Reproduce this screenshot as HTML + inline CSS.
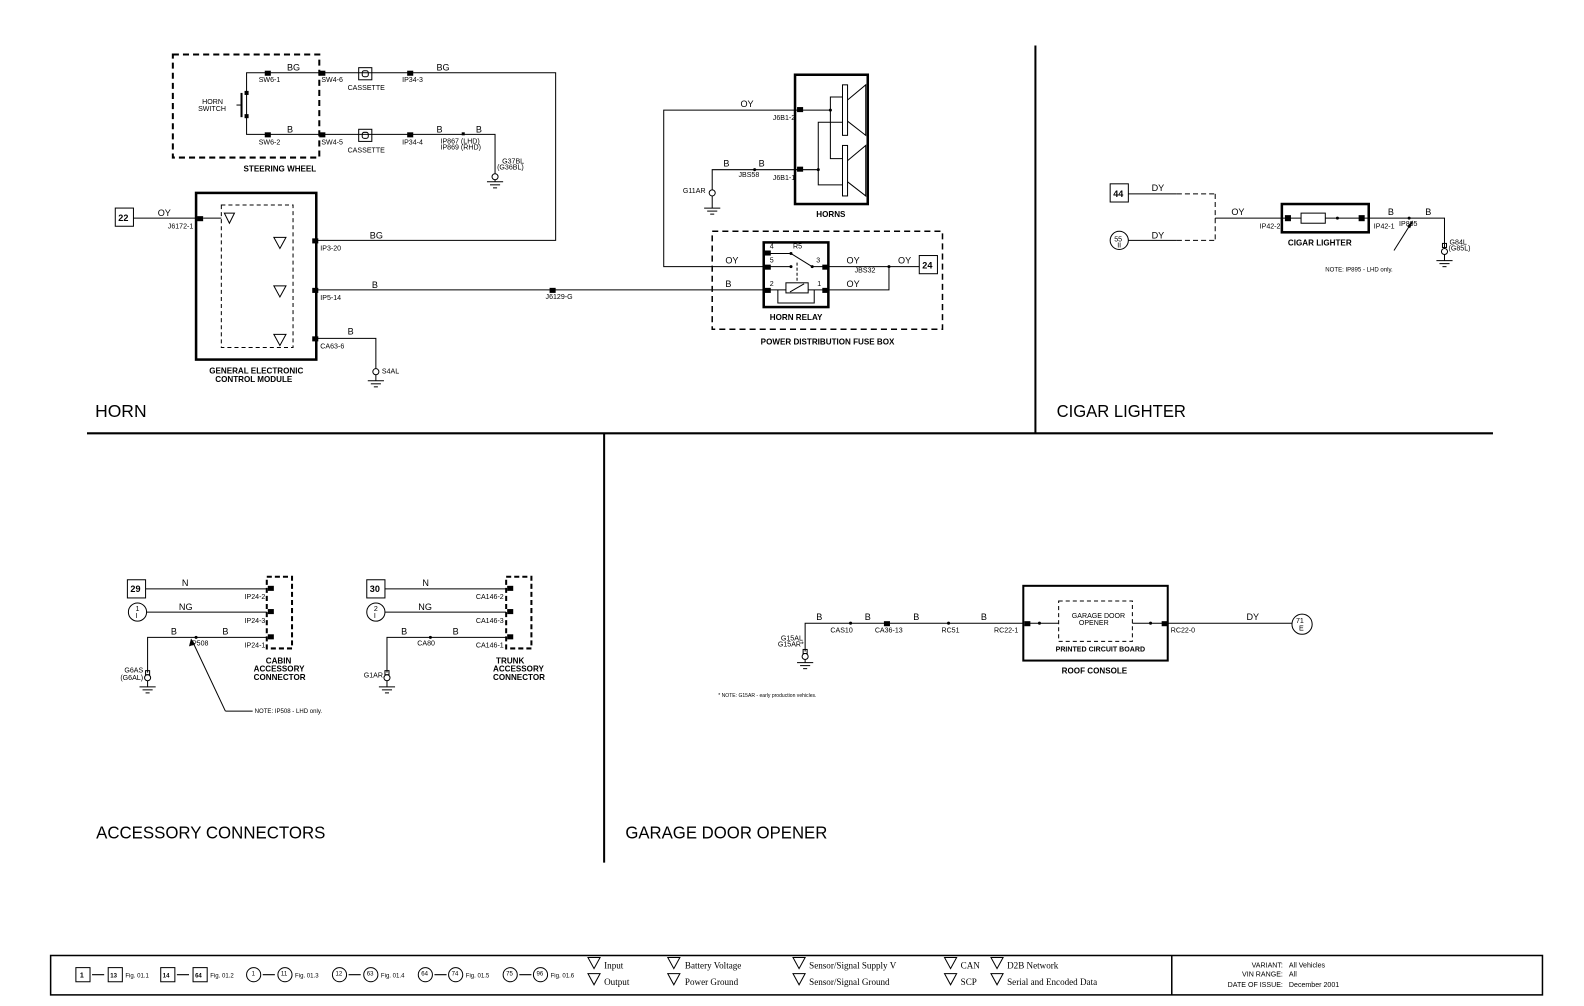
<!DOCTYPE html>
<html><head><meta charset="utf-8"><style>
html,body{margin:0;padding:0;background:#fff}
svg{display:block}
text{font-family:"Liberation Sans",sans-serif;fill:#000}
.s{font-size:7px}
.w{font-size:9px}
.b{font-size:8px;font-weight:bold}
.t{font-size:17px}
</style></head><body>
<svg width="1584" height="1006" viewBox="0 0 1568 996" xmlns="http://www.w3.org/2000/svg" fill="none" stroke="#000" stroke-width="1">
<!-- frame lines -->
<line x1="86" y1="429" x2="1478" y2="429" stroke-width="2"/>
<line x1="1025" y1="45" x2="1025" y2="429" stroke-width="2"/>
<line x1="598" y1="429" x2="598" y2="854" stroke-width="2"/>
<g stroke="none">
<text class="t" x="94" y="413" textLength="51" lengthAdjust="spacingAndGlyphs">HORN</text>
<text class="t" x="1046" y="413" textLength="128" lengthAdjust="spacingAndGlyphs">CIGAR LIGHTER</text>
<text class="t" x="95" y="830" textLength="227" lengthAdjust="spacingAndGlyphs">ACCESSORY CONNECTORS</text>
<text class="t" x="619" y="830" textLength="200" lengthAdjust="spacingAndGlyphs">GARAGE DOOR OPENER</text>
</g>

<!-- HORN: steering wheel -->
<rect x="171" y="54" width="145" height="102" stroke-width="2" stroke-dasharray="6,4"/>
<polyline points="316,72 244,72 244,133 316,133"/>
<line x1="239" y1="92" x2="239" y2="116" stroke-width="2"/>
<line x1="239" y1="104" x2="234" y2="104"/>
<g fill="#000" stroke="none">
<rect x="242" y="90" width="4" height="4"/><rect x="242" y="113" width="4" height="4"/>
<rect x="262" y="70" width="6" height="5"/><rect x="262" y="131" width="6" height="5"/>
<rect x="316" y="70" width="6" height="5"/><rect x="316" y="131" width="6" height="5"/>
<rect x="403" y="70" width="6" height="5"/><rect x="403" y="131" width="6" height="5"/>
<rect x="457" y="131" width="3" height="3"/>
<text class="s" x="200" y="103">HORN</text><text class="s" x="196" y="110">SWITCH</text>
<text class="s" x="256" y="81">SW6-1</text><text class="s" x="256" y="143">SW6-2</text>
<text class="s" x="318" y="81">SW4-6</text><text class="s" x="318" y="143">SW4-5</text>
<text class="s" x="344" y="89">CASSETTE</text><text class="s" x="344" y="151">CASSETTE</text>
<text class="s" x="398" y="81">IP34-3</text><text class="s" x="398" y="143">IP34-4</text>
<text class="s" x="436" y="142">IP867 (LHD)</text><text class="s" x="436" y="148">IP869 (RHD)</text>
<text class="s" x="497" y="162">G37BL</text><text class="s" x="492" y="168">(G36BL)</text>
<text class="w" x="284" y="70">BG</text><text class="w" x="284" y="131">B</text>
<text class="w" x="432" y="70">BG</text><text class="w" x="432" y="131">B</text><text class="w" x="471" y="131">B</text>
<text class="b" x="241" y="170">STEERING WHEEL</text>
</g>
<rect x="355" y="67" width="13" height="12"/><rect x="355" y="128" width="13" height="12"/>
<rect x="358.5" y="70" width="6" height="6" rx="2"/><rect x="358.5" y="131" width="6" height="6" rx="2"/>
<polyline points="316,72 550,72 550,238 313,238"/>
<polyline points="316,133 490,133 490,172"/>
<circle cx="490" cy="175" r="3"/>
<line x1="490" y1="178" x2="490" y2="180"/>
<line x1="482" y1="180" x2="498" y2="180"/><line x1="485" y1="183" x2="495" y2="183"/><line x1="488" y1="186" x2="492" y2="186"/>

<!-- GECM -->
<rect x="194" y="191" width="119" height="165" stroke-width="2.5"/>
<rect x="219" y="203" width="71" height="141" stroke-dasharray="4,3"/>
<rect x="114" y="206" width="18" height="18"/>
<g stroke="none" fill="#000"><text x="117" y="219" style="font-size:9px;font-weight:bold">22</text>
<rect x="195" y="214" width="6" height="5"/><rect x="309" y="236" width="6" height="5"/><rect x="309" y="285" width="6" height="5"/><rect x="309" y="333" width="6" height="5"/>
<text class="w" x="156" y="214">OY</text><text class="s" x="166" y="226">J6172-1</text>
<text class="s" x="317" y="248">IP3-20</text><text class="s" x="317" y="297">IP5-14</text><text class="s" x="317" y="345">CA63-6</text>
<text class="w" x="366" y="236">BG</text><text class="w" x="368" y="285">B</text><text class="w" x="344" y="331">B</text>
<text class="s" x="378" y="370">S4AL</text>
<text class="s" x="540" y="296">J6129-G</text>
<text class="b" x="207" y="370">GENERAL ELECTRONIC</text><text class="b" x="213" y="378">CONTROL MODULE</text>
<rect x="544" y="285" width="6" height="5"/>
</g>
<line x1="132" y1="216" x2="194" y2="216"/><line x1="201" y1="216" x2="219" y2="216"/>
<path d="M222,211 h10 l-5,10 z M271,235 h12 l-6,11 z M271,283 h12 l-6,11 z M271,331 h12 l-6,11 z"/>
<line x1="313" y1="287" x2="756" y2="287"/>
<polyline points="313,335 372,335 372,365"/>
<circle cx="372" cy="368" r="3"/>
<line x1="372" y1="371" x2="372" y2="377"/>
<line x1="364" y1="377" x2="380" y2="377"/><line x1="367" y1="380" x2="377" y2="380"/><line x1="370" y1="383" x2="374" y2="383"/>

<!-- Horns -->
<rect x="787" y="74" width="72" height="128" stroke-width="2.5"/>
<rect x="834" y="84" width="5" height="50"/><rect x="834" y="144" width="5" height="50"/>
<path d="M839,99 L857,84 V134 L839,120 M839,159 L857,144 V194 L839,180"/>
<polyline points="791,109 822,109 822,157 834,157"/>
<polyline points="834,121 810,121 810,168 791,168"/>
<polyline points="810,168 810,183 834,183"/>
<polyline points="822,109 822,96 834,96"/>
<polyline points="790,109 657,109 657,264 756,264"/>
<polyline points="790,168 705,168 705,188"/>
<circle cx="705" cy="191" r="3"/>
<line x1="705" y1="194" x2="705" y2="206"/>
<line x1="697" y1="206" x2="713" y2="206"/><line x1="700" y1="209" x2="710" y2="209"/><line x1="703" y1="212" x2="707" y2="212"/>
<g stroke="none" fill="#000">
<rect x="789" y="106" width="6" height="5"/><rect x="789" y="165" width="6" height="5"/>
<circle cx="822" cy="109" r="1.5"/><circle cx="810" cy="168" r="1.5"/><circle cx="747" cy="168" r="1.5"/>
<text class="w" x="733" y="106">OY</text><text class="w" x="716" y="165">B</text><text class="w" x="751" y="165">B</text>
<text class="s" x="765" y="119">J6B1-2</text><text class="s" x="765" y="178">J6B1-1</text>
<text class="s" x="731" y="175">JBS58</text><text class="s" x="676" y="191">G11AR</text>
<text class="b" x="808" y="215">HORNS</text>
</g>
<!-- Relay -->
<rect x="705" y="229" width="228" height="97" stroke-width="1.5" stroke-dasharray="6,4"/>
<rect x="756" y="240" width="64" height="64" stroke-width="2.5"/>
<polyline points="760,251 783,251"/><line x1="783" y1="251" x2="804" y2="264"/>
<line x1="760" y1="264" x2="783" y2="264"/><line x1="804" y1="264" x2="820" y2="264"/>
<line x1="789" y1="260" x2="789" y2="280" stroke-dasharray="3,2"/>
<rect x="778" y="280" width="22" height="10"/><line x1="782" y1="289" x2="796" y2="281"/>
<polyline points="760,287 778,287"/><polyline points="800,287 816,287"/>
<polyline points="770,287 770,300 806,300 806,287"/>
<line x1="820" y1="264" x2="910" y2="264"/>
<polyline points="820,287 880,287 880,264"/>
<rect x="910" y="253" width="18" height="18"/>
<g stroke="none" fill="#000">
<rect x="757" y="248" width="6" height="5"/><rect x="757" y="262" width="6" height="5"/><rect x="757" y="285" width="6" height="5"/>
<rect x="814" y="262" width="6" height="5"/><rect x="814" y="285" width="6" height="5"/>
<circle cx="783" cy="251" r="1.5"/><circle cx="783" cy="264" r="1.5"/><circle cx="804" cy="264" r="1.5"/><circle cx="880" cy="264" r="1.5"/>
<text class="s" x="762" y="246">4</text><text class="s" x="762" y="260">5</text><text class="s" x="762" y="283">2</text><text class="s" x="785" y="246">R5</text>
<text class="s" x="808" y="260">3</text><text class="s" x="809" y="283">1</text>
<text class="w" x="718" y="261">OY</text><text class="w" x="718" y="284">B</text>
<text class="w" x="838" y="261">OY</text><text class="w" x="838" y="284">OY</text><text class="w" x="889" y="261">OY</text>
<text class="s" x="846" y="270">JBS32</text>
<text x="913" y="266" style="font-size:9px;font-weight:bold">24</text>
<text class="b" x="762" y="317">HORN RELAY</text>
<text class="b" x="753" y="341">POWER DISTRIBUTION FUSE BOX</text>
</g>

<!-- CIGAR LIGHTER -->
<rect x="1099" y="182" width="18" height="18"/>
<circle cx="1108" cy="238" r="9"/>
<line x1="1117" y1="192" x2="1165" y2="192"/><line x1="1165" y1="192" x2="1203" y2="192" stroke-dasharray="5,3"/>
<line x1="1117" y1="238" x2="1165" y2="238"/><line x1="1165" y1="238" x2="1203" y2="238" stroke-dasharray="5,3"/>
<line x1="1203" y1="192" x2="1203" y2="238" stroke-dasharray="5,3"/>
<line x1="1203" y1="216" x2="1270" y2="216"/>
<rect x="1269" y="202" width="86" height="28" stroke-width="2.5"/>
<line x1="1270" y1="216" x2="1288" y2="216"/><rect x="1288" y="211" width="24" height="10"/><line x1="1312" y1="216" x2="1355" y2="216"/>
<polyline points="1355,216 1430,216 1430,246"/>
<line x1="1380" y1="248" x2="1397" y2="221"/>
<rect x="1428" y="241" width="4" height="4"/><circle cx="1430" cy="249" r="3"/>
<line x1="1430" y1="252" x2="1430" y2="258"/>
<line x1="1422" y1="258" x2="1438" y2="258"/><line x1="1425" y1="261" x2="1435" y2="261"/><line x1="1428" y1="264" x2="1432" y2="264"/>
<g stroke="none" fill="#000">
<rect x="1272" y="213" width="6" height="6"/><rect x="1345" y="213" width="6" height="6"/><circle cx="1324" cy="216" r="1.5"/><circle cx="1395" cy="216" r="1.5"/>
<path d="M1399,218 L1393,224 L1396,226 Z"/>
<text x="1102" y="195" style="font-size:9px;font-weight:bold">44</text>
<text class="s" x="1103" y="239">55</text><text class="s" x="1106" y="245">II</text>
<text class="w" x="1140" y="189">DY</text><text class="w" x="1140" y="236">DY</text><text class="w" x="1219" y="213">OY</text>
<text class="w" x="1374" y="213">B</text><text class="w" x="1411" y="213">B</text>
<text class="s" x="1247" y="226">IP42-2</text><text class="s" x="1360" y="226">IP42-1</text><text class="s" x="1385" y="224">IP895</text>
<text class="s" x="1435" y="242">G84L</text><text class="s" x="1434" y="248">(G85L)</text>
<text class="b" x="1275" y="243">CIGAR LIGHTER</text>
<text class="s" x="1312" y="269" style="font-size:6px">NOTE: IP895 - LHD only.</text>
</g>

<!-- ACCESSORY: cabin -->
<rect x="126" y="574" width="18" height="18"/><circle cx="136" cy="606" r="9"/>
<line x1="144" y1="583" x2="264" y2="583"/><line x1="145" y1="606" x2="264" y2="606"/>
<polyline points="264,631 146,631 146,666"/>
<rect x="264" y="571" width="25" height="71" stroke-width="2" stroke-dasharray="5,3"/>
<line x1="190" y1="634" x2="223" y2="704"/><line x1="223" y1="704" x2="250" y2="704"/>
<rect x="144" y="664" width="4" height="4"/><circle cx="146" cy="671" r="3"/>
<line x1="146" y1="674" x2="146" y2="680"/><line x1="138" y1="680" x2="154" y2="680"/><line x1="141" y1="683" x2="151" y2="683"/><line x1="144" y1="686" x2="148" y2="686"/>
<!-- trunk -->
<rect x="363" y="574" width="18" height="18"/><circle cx="372" cy="606" r="9"/>
<line x1="381" y1="583" x2="501" y2="583"/><line x1="381" y1="606" x2="501" y2="606"/>
<polyline points="501,631 383,631 383,666"/>
<rect x="501" y="571" width="25" height="71" stroke-width="2" stroke-dasharray="5,3"/>
<rect x="381" y="664" width="4" height="4"/><circle cx="383" cy="671" r="3"/>
<line x1="383" y1="674" x2="383" y2="680"/><line x1="375" y1="680" x2="391" y2="680"/><line x1="378" y1="683" x2="388" y2="683"/><line x1="381" y1="686" x2="385" y2="686"/>
<g stroke="none" fill="#000">
<rect x="265" y="580" width="6" height="5"/><rect x="265" y="603" width="6" height="5"/><rect x="265" y="628" width="6" height="5"/>
<rect x="502" y="580" width="6" height="5"/><rect x="502" y="603" width="6" height="5"/><rect x="502" y="628" width="6" height="5"/>
<circle cx="194" cy="631" r="1.5"/><circle cx="426" cy="631" r="1.5"/>
<path d="M189,632 L187,640 L193,638 Z"/>
<text x="129" y="586" style="font-size:9px;font-weight:bold">29</text><text class="s" x="134" y="605">1</text><text class="s" x="134" y="612">I</text>
<text x="366" y="586" style="font-size:9px;font-weight:bold">30</text><text class="s" x="370" y="605">2</text><text class="s" x="370" y="612">I</text>
<text class="w" x="180" y="580">N</text><text class="w" x="177" y="604">NG</text><text class="w" x="169" y="628">B</text><text class="w" x="220" y="628">B</text>
<text class="w" x="418" y="580">N</text><text class="w" x="414" y="604">NG</text><text class="w" x="397" y="628">B</text><text class="w" x="448" y="628">B</text>
<text class="s" x="242" y="593">IP24-2</text><text class="s" x="242" y="617">IP24-3</text><text class="s" x="242" y="641">IP24-1</text><text class="s" x="188" y="639">IP508</text>
<text class="s" x="471" y="593">CA146-2</text><text class="s" x="471" y="617">CA146-3</text><text class="s" x="471" y="641">CA146-1</text><text class="s" x="413" y="639">CA80</text>
<text class="s" x="123" y="666">G6AS</text><text class="s" x="119" y="673">(G6AL)</text><text class="s" x="360" y="671">G1AR</text>
<text class="b" x="263" y="657">CABIN</text><text class="b" x="251" y="665">ACCESSORY</text><text class="b" x="251" y="673">CONNECTOR</text>
<text class="b" x="491" y="657">TRUNK</text><text class="b" x="488" y="665">ACCESSORY</text><text class="b" x="488" y="673">CONNECTOR</text>
<text class="s" x="252" y="706" style="font-size:6px">NOTE: IP508 - LHD only.</text>
</g>

<!-- GARAGE DOOR OPENER -->
<polyline points="1013,617 797,617 797,645"/>
<rect x="795" y="643" width="4" height="4"/><circle cx="797" cy="650" r="3"/>
<line x1="797" y1="653" x2="797" y2="656"/><line x1="789" y1="656" x2="805" y2="656"/><line x1="792" y1="659" x2="802" y2="659"/><line x1="795" y1="662" x2="799" y2="662"/>
<rect x="1013" y="580" width="143" height="74" stroke-width="2"/>
<rect x="1048" y="595" width="73" height="40" stroke-dasharray="4,3"/>
<line x1="1016" y1="617" x2="1048" y2="617"/><line x1="1121" y1="617" x2="1156" y2="617"/>
<line x1="1156" y1="617" x2="1279" y2="617"/>
<circle cx="1289" cy="618" r="10"/>
<g stroke="none" fill="#000">
<rect x="1014" y="615" width="6" height="5"/><rect x="1150" y="615" width="6" height="5"/><rect x="875" y="615" width="6" height="5"/>
<circle cx="1029" cy="617" r="1.5"/><circle cx="1139" cy="617" r="1.5"/><circle cx="842" cy="617" r="1.5"/><circle cx="939" cy="617" r="1.5"/>
<text class="w" x="808" y="614">B</text><text class="w" x="856" y="614">B</text><text class="w" x="904" y="614">B</text><text class="w" x="971" y="614">B</text><text class="w" x="1234" y="614">DY</text>
<text class="s" x="822" y="626">CAS10</text><text class="s" x="866" y="626">CA36-13</text><text class="s" x="932" y="626">RC51</text><text class="s" x="984" y="626">RC22-1</text><text class="s" x="1159" y="626">RC22-0</text>
<text class="s" x="773" y="634">G15AL</text><text class="s" x="770" y="640">G15AR*</text>
<text class="s" x="1061" y="612">GARAGE DOOR</text><text class="s" x="1068" y="619">OPENER</text>
<text class="s" x="1045" y="645" style="font-weight:bold">PRINTED CIRCUIT BOARD</text>
<text class="b" x="1051" y="667">ROOF CONSOLE</text>
<text class="s" x="1283" y="617">71</text><text class="s" x="1286" y="624">E</text>
<text class="s" x="711" y="690" style="font-size:5px">* NOTE: G15AR - early production vehicles.</text>
</g>

<!-- LEGEND -->
<rect x="50" y="946" width="1477" height="39" stroke-width="1.5"/>
<line x1="1160" y1="946" x2="1160" y2="985" stroke-width="1.5"/>
<g>
<rect x="75" y="958" width="14" height="14"/><rect x="107" y="958" width="14" height="14"/>
<rect x="159" y="958" width="14" height="14"/><rect x="191" y="958" width="14" height="14"/>
<circle cx="251" cy="965" r="7"/><circle cx="282" cy="965" r="7"/>
<circle cx="336" cy="965" r="7"/><circle cx="367" cy="965" r="7"/>
<circle cx="421" cy="965" r="7"/><circle cx="451" cy="965" r="7"/>
<circle cx="505" cy="965" r="7"/><circle cx="535" cy="965" r="7"/>
<path d="M91,965h12 M175,965h12 M260,965h12 M345,965h12 M430,965h12 M514,965h12"/>
<path d="M582,948h12l-6,11z M582,964h12l-6,11z M661,948h12l-6,11z M661,964h12l-6,11z M785,948h12l-6,11z M785,964h12l-6,11z M935,948h12l-6,11z M935,964h12l-6,11z M981,948h12l-6,11z M981,964h12l-6,11z"/>
</g>
<g stroke="none" fill="#000" style="font-size:7px">
<text x="79" y="968" style="font-weight:bold">1</text><text x="109" y="968" style="font-size:6px;font-weight:bold">13</text><text x="124" y="968" style="font-size:6px">Fig. 01.1</text>
<text x="161" y="968" style="font-size:6px;font-weight:bold">14</text><text x="193" y="968" style="font-size:6px;font-weight:bold">64</text><text x="208" y="968" style="font-size:6px">Fig. 01.2</text>
<text x="249" y="966" style="font-size:6px">1</text><text x="278" y="966" style="font-size:6px">11</text><text x="292" y="968" style="font-size:6px">Fig. 01.3</text>
<text x="332" y="966" style="font-size:6px">12</text><text x="363" y="966" style="font-size:6px">63</text><text x="377" y="968" style="font-size:6px">Fig. 01.4</text>
<text x="417" y="966" style="font-size:6px">64</text><text x="447" y="966" style="font-size:6px">74</text><text x="461" y="968" style="font-size:6px">Fig. 01.5</text>
<text x="501" y="966" style="font-size:6px">75</text><text x="531" y="966" style="font-size:6px">96</text><text x="545" y="968" style="font-size:6px">Fig. 01.6</text>
<text x="598" y="959" style="font-family:'Liberation Serif',serif;font-size:9px">Input</text><text x="598" y="975" style="font-family:'Liberation Serif',serif;font-size:9px">Output</text>
<text x="678" y="959" style="font-family:'Liberation Serif',serif;font-size:9px">Battery Voltage</text><text x="678" y="975" style="font-family:'Liberation Serif',serif;font-size:9px">Power Ground</text>
<text x="801" y="959" style="font-family:'Liberation Serif',serif;font-size:9px">Sensor/Signal Supply V</text><text x="801" y="975" style="font-family:'Liberation Serif',serif;font-size:9px">Sensor/Signal Ground</text>
<text x="951" y="959" style="font-family:'Liberation Serif',serif;font-size:9px">CAN</text><text x="951" y="975" style="font-family:'Liberation Serif',serif;font-size:9px">SCP</text>
<text x="997" y="959" style="font-family:'Liberation Serif',serif;font-size:9px">D2B Network</text><text x="997" y="975" style="font-family:'Liberation Serif',serif;font-size:9px">Serial and Encoded Data</text>
<text x="1270" y="958" text-anchor="end" style="font-size:7px">VARIANT:</text><text x="1276" y="958">All Vehicles</text>
<text x="1270" y="967" text-anchor="end" style="font-size:7px">VIN RANGE:</text><text x="1276" y="967">All</text>
<text x="1270" y="977" text-anchor="end" style="font-size:7px">DATE OF ISSUE:</text><text x="1276" y="977">December 2001</text>
</g>
</svg>
</body></html>
